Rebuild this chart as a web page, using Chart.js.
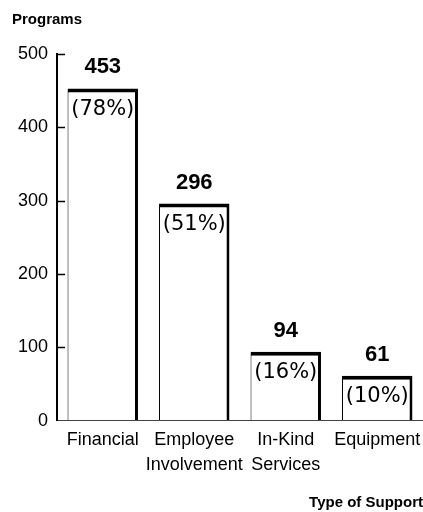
<!DOCTYPE html>
<html>
<head>
<meta charset="utf-8">
<script src="https://cdn.jsdelivr.net/npm/chart.js@4/dist/chart.umd.min.js"></script>
<style>html,body{margin:0;padding:0;background:#fff}</style>
</head>
<body>
<canvas id="canvas" width="423" height="512"></canvas>
<script>
const categories = [["Financial"], ["Employee", "Involvement"], ["In-Kind", "Services"], ["Equipment"]];
const programs = [453, 296, 94, 61];
const percents = ["(78%)", "(51%)", "(16%)", "(10%)"];
const yTicks = [0, 100, 200, 300, 400, 500];

const sans = "'Liberation Sans', Arial, sans-serif";

// small tick marks pointing into the plot, plus the value / percent labels
const barText = {
    id: 'barText',
    afterDatasetsDraw(chart) {
        const ctx = chart.ctx;
        const area = chart.chartArea;
        const y = chart.scales.y;
        ctx.save();
        ctx.strokeStyle = '#000';
        ctx.lineWidth = 1.5;
        yTicks.forEach(function (v) {
            if (v === 0) return;
            const py = Math.round(y.getPixelForValue(v)) + 0.5;
            ctx.beginPath();
            ctx.moveTo(area.left, py);
            ctx.lineTo(area.left + 8, py);
            ctx.stroke();
        });
        const meta = chart.getDatasetMeta(0);
        ctx.fillStyle = '#000';
        ctx.textAlign = 'center';
        meta.data.forEach(function (bar, i) {
            ctx.font = "bold 22px " + sans;
            ctx.textBaseline = 'alphabetic';
            ctx.fillText(String(programs[i]), bar.x, bar.y - 15);
            ctx.font = "21px 'DejaVu Sans', sans-serif";
            ctx.textBaseline = 'middle';
            ctx.fillText(percents[i], bar.x, bar.y + 21);
        });
        ctx.restore();
    }
};

const data = {
    labels: categories,
    datasets: [{
        data: programs,
        backgroundColor: '#fff',
        borderColor: '#000',
        borderWidth: {top: 4, right: 3, left: 1, bottom: 0},
        borderSkipped: false,
        barPercentage: 0.77,
        categoryPercentage: 1
    }]
};

const config = {
    type: 'bar',
    data: data,
    plugins: [barText],
    options: {
        responsive: false,
        animation: false,
        layout: {padding: {left: 12, right: 0, top: 0, bottom: 0}},
        plugins: {
            legend: {display: false},
            tooltip: {enabled: false},
            title: {
                display: true,
                text: 'Programs',
                align: 'start',
                color: '#000',
                font: {family: sans, size: 15, weight: 'bold'},
                padding: {top: 11, bottom: 25}
            }
        },
        scales: {
            x: {
                afterFit: function (scale) { scale.paddingRight = 0; },
                grid: {display: false, drawTicks: false},
                border: {display: true, color: '#444', width: 1, dash: [2, 1]},
                ticks: {
                    color: '#000',
                    padding: 7,
                    maxRotation: 0,
                    autoSkip: false,
                    font: {family: sans, size: 18, lineHeight: 1.4}
                },
                title: {
                    display: true,
                    text: 'Type of Support',
                    align: 'end',
                    color: '#000',
                    font: {family: sans, size: 15, weight: 'bold'},
                    padding: {top: 9, bottom: 0}
                }
            },
            y: {
                min: 0,
                max: 500,
                afterBuildTicks: function (scale) {
                    scale.ticks = yTicks.map(function (v) { return {value: v}; });
                },
                afterFit: function (scale) { scale.width = 45; },
                grid: {display: true, drawOnChartArea: false, drawTicks: false},
                border: {display: true, color: '#000', width: 2},
                ticks: {
                    color: '#000',
                    padding: 9,
                    font: {family: sans, size: 18}
                }
            }
        }
    }
};

var canvas = document.getElementById("canvas");
const chart = new Chart(canvas, config);
</script>
</body>
</html>
